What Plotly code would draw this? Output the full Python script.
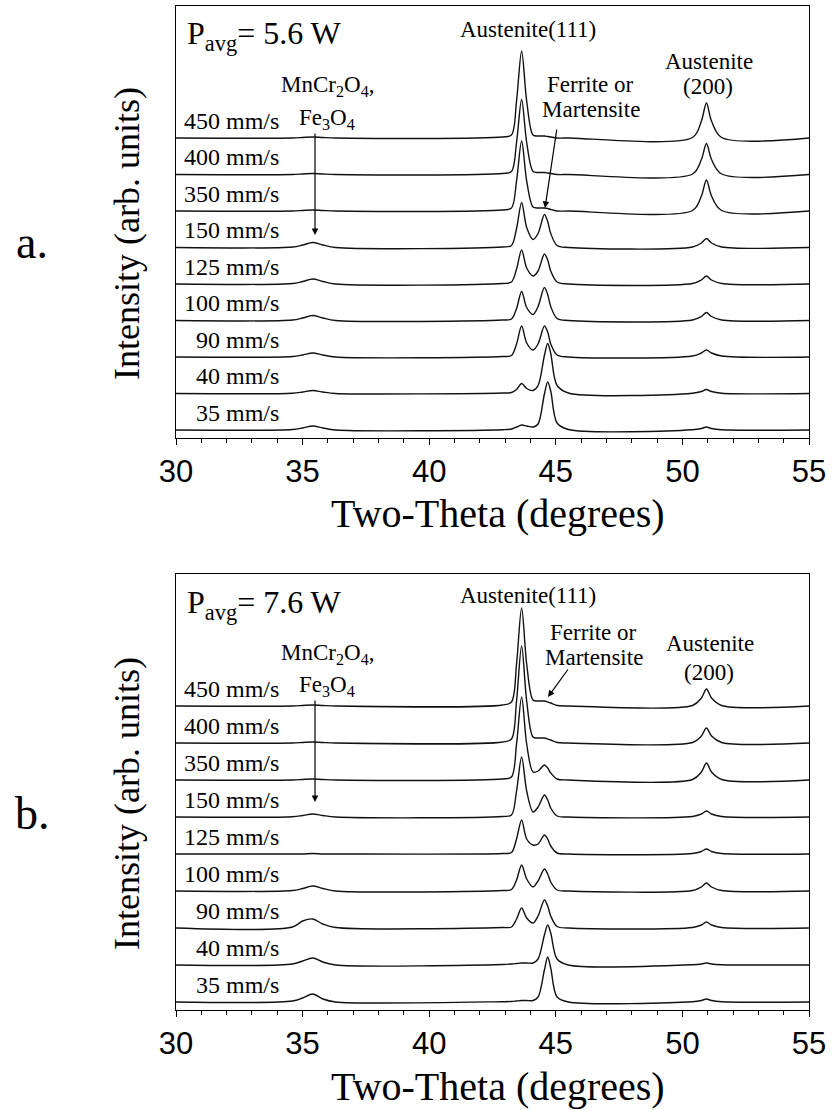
import plotly.graph_objects as go

# ---------------- data ----------------
TWO_THETA = [30.0, 34.6, 35.0, 35.4, 35.8, 36.3, 42.9, 43.25, 43.45, 43.65, 43.85, 44.1,
             44.3, 44.55, 44.68, 44.8, 45.05, 45.5, 50.4, 50.75, 50.95, 51.15, 51.55, 55.0]

SPEED_LABELS = ["450 mm/s", "400 mm/s", "350 mm/s", "150 mm/s", "125 mm/s",
                "100 mm/s", "90 mm/s", "40 mm/s", "35 mm/s"]

X_TICKS = [30, 35, 40, 45, 50, 55]

# Panel a  (P_avg = 5.6 W), intensity above each trace's own baseline
A_450 = [0, 0, 0.5, 1, 0.5, 0, 1, 3, 37, 87, 37, 3, 2, 2, 1.5, 1, 0, 0, 0.5, 17, 35, 17, 0.5, 0]
A_400 = [0, 0, 0.5, 1, 0.5, 0, 1, 3, 32, 75, 32, 3, 2, 2, 1.5, 1, 0, 0, 0.5, 15, 31, 15, 0.5, 0]
A_350 = [0, 0, 0.5, 1, 0.5, 0, 1, 3, 30, 70, 30, 4, 3, 3, 2.5, 1.5, 0, 0, 0.5, 15, 31, 15, 0.5, 0]
A_150 = [0, 0.5, 2.5, 5, 2.5, 0, 0.5, 2, 19, 45, 20, 8, 14, 33, 26, 14, 2, 0, 0.5, 4.5, 9, 4.5, 0.5, 0]
A_125 = [0, 0.5, 2.5, 5, 2.5, 0, 0.5, 2, 15, 34, 16, 8, 13, 30, 24, 13, 2, 0, 0.5, 4, 8, 4, 0.5, 0]
A_100 = [0, 0.5, 2.5, 5, 2.5, 0, 0.5, 1.5, 12, 29, 13, 6, 14, 33, 26, 14, 2, 0, 0.5, 4, 8, 4, 0.5, 0]
A_90 = [0, 0.5, 2, 4, 2, 0, 0.5, 1.5, 13, 31, 14, 7, 13, 31, 25, 13, 2, 0, 1, 4, 7, 4, 1, 0]
A_40 = [0, 0.3, 1.5, 3, 1.5, 0, 0.5, 1, 4, 10, 5, 3, 8, 38, 50, 40, 8, 0.5, 0.3, 2, 4, 2, 0.3, 0]
A_35 = [0, 0.5, 2, 4, 2, 0, 0.3, 1, 3, 5, 4, 3, 6, 36, 48, 39, 7, 0.5, 0.3, 1.5, 3, 1.5, 0.3, 0]

# Panel b  (P_avg = 7.6 W)
B_450 = [0, 0, 0.5, 1, 0.5, 0, 1, 4, 42, 98, 42, 6, 5, 5, 4, 3, 0.5, 0, 0.5, 8, 17, 8, 0.5, 0]
B_400 = [0, 0, 0.5, 1, 0.5, 0, 1, 4, 42, 97, 42, 6, 5, 5, 4, 3, 0.5, 0, 0.5, 7, 15, 7, 0.5, 0]
B_350 = [0, 0, 0.5, 1, 0.5, 0, 1, 3, 36, 83, 36, 8, 9, 15, 12, 7, 1, 0, 0.5, 8, 17, 8, 0.5, 0]
B_150 = [0, 0.3, 1.5, 3, 1.5, 0, 0.5, 2, 26, 60, 26, 5, 10, 22, 17, 9, 1, 0, 0.5, 3, 6, 3, 0.5, 0]
B_125 = [0, 0, 0, 0.5, 0, 0, 0.5, 1.5, 15, 34, 15, 9, 10, 19, 15, 8, 1, 0, 0.5, 2.5, 5, 2.5, 0.5, 0]
B_100 = [0, 0.5, 2.5, 5, 2.5, 0, 0.5, 1.5, 11, 26, 12, 4, 10, 22, 17, 9, 1, 0, 0.5, 4, 8, 4, 0.5, 0]
B_90 = [0, 1, 7, 9, 4, 0.5, 0.5, 1, 9, 20, 10, 5, 12, 28, 22, 12, 1.5, 0, 0.5, 3, 6, 3, 0.5, 0]
B_40 = [0, 1, 4, 7, 3, 0, 0.5, 1, 1.5, 2, 2, 2, 6, 30, 40, 32, 6, 0, 0.3, 1, 2, 1, 0.3, 0]
B_35 = [0, 1, 4, 8, 3, 0, 0.3, 0.5, 1, 1.5, 1.5, 1.5, 5, 32, 45, 34, 5, 0, 0.3, 1.5, 3, 1.5, 0.3, 0]

PANEL_A = [A_450, A_400, A_350, A_150, A_125, A_100, A_90, A_40, A_35]
PANEL_B = [B_450, B_400, B_350, B_150, B_125, B_100, B_90, B_40, B_35]

# ---------------- layout constants ----------------
W, H = 832, 1110
X_LEFT, X_RIGHT = 176, 809
A_TOP, A_BOT = 6, 438
B_TOP, B_BOT = 574, 1010
STEP_A, STEP_B = 36.5, 37.0

SERIF = "Liberation Serif"
SANS = "Liberation Sans"


def py(px):
    return 1 - px / H


def px_x(px):
    return px / W


fig = go.Figure()

n = len(SPEED_LABELS)
for panel, step, xa, ya in [(PANEL_A, STEP_A, "x", "y"), (PANEL_B, STEP_B, "x2", "y2")]:
    for i, vals in enumerate(panel):
        off = (n - 1 - i) * step
        fig.add_trace(go.Scatter(
            x=TWO_THETA, y=[v + off for v in vals], mode="lines",
            line=dict(color="#111111", width=1.4, shape="spline", smoothing=0.9),
            xaxis=xa, yaxis=ya, hoverinfo="skip", showlegend=False))

axis_common = dict(showline=True, linecolor="black", linewidth=1.3, mirror=True,
                   showgrid=False, zeroline=False)
xcommon = dict(axis_common, range=[30, 55], tickmode="array", tickvals=X_TICKS,
               ticktext=[str(t) for t in X_TICKS], ticks="outside", ticklen=6,
               tickwidth=1.3, tickcolor="black",
               minor=dict(tick0=30, dtick=1, ticks="outside", ticklen=4, tickwidth=1,
                          tickcolor="black", showgrid=False),
               tickfont=dict(family=SANS, size=31, color="black"), automargin=False)
ycommon = dict(axis_common, showticklabels=False, ticks="", automargin=False)

fig.update_layout(
    width=W, height=H, margin=dict(l=0, r=0, t=0, b=0),
    paper_bgcolor="white", plot_bgcolor="white", showlegend=False,
    xaxis=dict(xcommon, domain=[px_x(X_LEFT), px_x(X_RIGHT)], anchor="y"),
    yaxis=dict(ycommon, domain=[py(A_BOT), py(A_TOP)], range=[-8, A_BOT - A_TOP - 8], anchor="x"),
    xaxis2=dict(xcommon, domain=[px_x(X_LEFT), px_x(X_RIGHT)], anchor="y2"),
    yaxis2=dict(ycommon, domain=[py(B_BOT), py(B_TOP)], range=[-8, B_BOT - B_TOP - 8], anchor="x2"),
)

ann = []


def text(x, y, s, size, xref, yref, xanchor="center", yanchor="middle", angle=0, family=SERIF):
    ann.append(dict(x=x, y=y, text=s, xref=xref, yref=yref, showarrow=False,
                    xanchor=xanchor, yanchor=yanchor, textangle=angle,
                    font=dict(family=family, size=size, color="black")))


def arrow(x, y, ax, ay, xref, yref):
    ann.append(dict(x=x, y=y, ax=ax, ay=ay, xref=xref, yref=yref, axref=xref, ayref=yref,
                    text="", showarrow=True, arrowhead=2, arrowsize=1.1, arrowwidth=1.2,
                    arrowcolor="black"))


def dx(px):
    return 30 + (px - X_LEFT) * 25 / (X_RIGHT - X_LEFT)


panels = [
    dict(xr="x", yr="y", bot=A_BOT, step=STEP_A, top=A_TOP, letter="a.", power="5.6 W",
         p_y=36, a111_y=30, fer=[(590, 85), (591, 110)], fer_arrow=((557, 128), (545, 208)),
         a200=[(709, 62), (708, 87)], ox=[(327, 86), (327, 119)], ox_arrow=((315, 132), (315, 235))),
    dict(xr="x2", yr="y2", bot=B_BOT, step=STEP_B, top=B_TOP, letter="b.", power="7.6 W",
         p_y=604, a111_y=595, fer=[(593, 632), (594, 657)], fer_arrow=((569, 668), (548, 697)),
         a200=[(710, 643), (709, 672)], ox=[(327, 654), (327, 686)], ox_arrow=((315, 699), (315, 802))),
]

for p in panels:
    xr, yr, bot = p["xr"], p["yr"], p["bot"]

    def dy(px, bot=bot):
        return bot - px - 8

    # speed labels
    for i, lab in enumerate(SPEED_LABELS):
        off = (n - 1 - i) * p["step"]
        text(dx(281), off + 17, lab, 24, xr, yr, xanchor="right")
    text(dx(185), dy(p["p_y"]), "P<sub>avg</sub>= " + p["power"], 32, xr, yr, xanchor="left")
    text(dx(528), dy(p["a111_y"]), "Austenite(111)", 23, xr, yr)
    text(dx(p["fer"][0][0]), dy(p["fer"][0][1]), "Ferrite or", 23, xr, yr)
    text(dx(p["fer"][1][0]), dy(p["fer"][1][1]), "Martensite", 23, xr, yr)
    text(dx(p["a200"][0][0]), dy(p["a200"][0][1]), "Austenite", 23, xr, yr)
    text(dx(p["a200"][1][0]), dy(p["a200"][1][1]), "(200)", 23, xr, yr)
    text(dx(p["ox"][0][0]), dy(p["ox"][0][1]), "MnCr<sub>2</sub>O<sub>4</sub>,", 23, xr, yr)
    text(dx(p["ox"][1][0]), dy(p["ox"][1][1]), "Fe<sub>3</sub>O<sub>4</sub>", 23, xr, yr)
    (tx, ty), (hx, hy) = p["fer_arrow"]
    arrow(dx(hx), dy(hy), dx(tx), dy(ty), xr, yr)
    (tx, ty), (hx, hy) = p["ox_arrow"]
    arrow(dx(hx), dy(hy), dx(tx), dy(ty), xr, yr)

    mid = (p["top"] + bot) / 2
    text(px_x(127), py(mid + 12), "Intensity (arb. units)", 36, "paper", "paper", angle=-90)
    text(px_x(32), py(mid + 21), p["letter"], 46, "paper", "paper")
    text(px_x(498), py(bot + 76), "Two-Theta (degrees)", 40, "paper", "paper")

fig.update_layout(annotations=ann)
fig.write_html("out.html")
